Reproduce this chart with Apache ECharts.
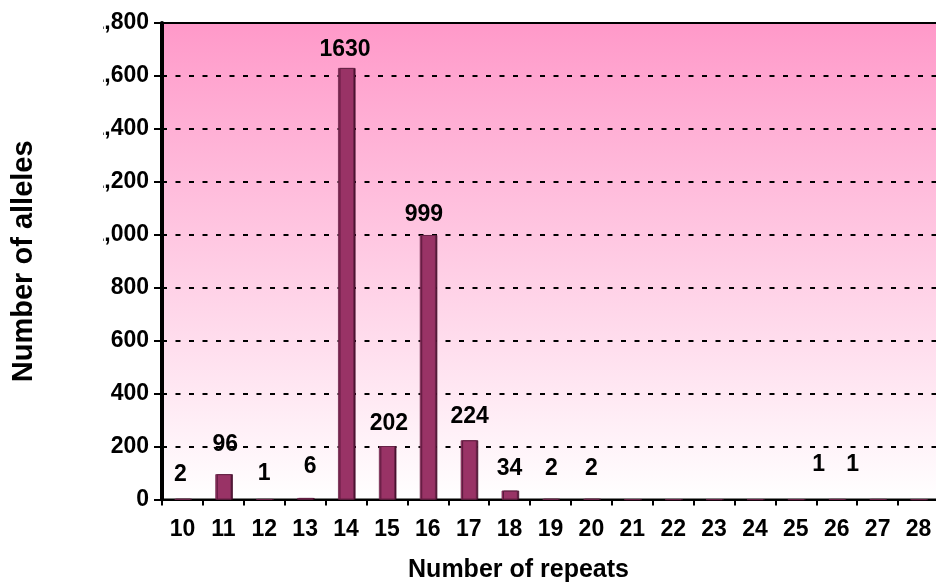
<!DOCTYPE html>
<html>
<head>
<meta charset="utf-8">
<script src="https://cdn.jsdelivr.net/npm/echarts@6/dist/echarts.min.js"></script>
<style>
  html, body { margin: 0; padding: 0; background: #ffffff; }
  #chart { width: 936px; height: 583px; }
</style>
</head>
<body>
<div id="chart"></div>
<script>
// Allele counts per number of repeats
const categories = ['10', '11', '12', '13', '14', '15', '16', '17', '18', '19',
                    '20', '21', '22', '23', '24', '25', '26', '27', '28'];
const alleleCounts = [2, 96, 1, 6, 1630, 202, 999, 224, 34, 2,
                      2, 0, 0, 0, 0, 0, 1, 1, 0];

// Value axis range
const yMin = 0;
const yMax = 1800;
const yStep = 200;

// Hand placement of the value labels: [horizontal shift, gap above the bar]
const labelPlacement = [
  [-2, 13], [2, 18], [0, 14], [5, 20], [-1, 7], [2, 11], [-4, 9], [1, 12], [0, 10], [1, 19],
  [0, 19], [0, 0], [0, 0], [0, 0], [0, 0], [0, 0], [-18, 23], [-25, 23], [0, 0]
];

const FONT = '"Liberation Sans", Arial, Helvetica, sans-serif';

const chart = echarts.init(document.getElementById('chart'), null, { renderer: 'canvas' });

const barData = alleleCounts.map((v, i) => ({
  value: v,
  label: {
    show: v > 0,
    offset: [labelPlacement[i][0], 0],
    distance: labelPlacement[i][1]
  }
}));

chart.setOption({
  animation: false,
  backgroundColor: '#ffffff',
  grid: {
    left: 162,
    right: -3,
    top: 23,
    bottom: 83.4,
    show: true,
    borderColor: '#000000',
    borderWidth: 2,
    backgroundColor: new echarts.graphic.LinearGradient(0, 0, 0, 1, [
      { offset: 0, color: '#ff99c9' },
      { offset: 1, color: '#ffffff' }
    ]),
    outerBoundsMode: 'none',
    containLabel: false
  },
  xAxis: {
    type: 'category',
    data: categories,
    boundaryGap: true,
    axisLine: { show: true, lineStyle: { color: '#000000', width: 2 } },
    axisTick: { show: true, interval: 0, length: 6, lineStyle: { color: '#000000', width: 2 } },
    axisLabel: {
      interval: 0, margin: 19, color: '#000000',
      fontFamily: FONT, fontSize: 23, fontWeight: 'bold'
    },
    splitLine: { show: false }
  },
  yAxis: {
    type: 'value',
    min: yMin,
    max: yMax,
    interval: yStep,
    name: 'Number of alleles',
    nameLocation: 'middle',
    nameRotate: 90,
    nameGap: 124,
    nameTextStyle: { color: '#000000', fontFamily: FONT, fontSize: 29, fontWeight: 'bold' },
    axisLine: { show: true, lineStyle: { color: '#000000', width: 4 } },
    axisTick: { show: true, length: 8, lineStyle: { color: '#000000', width: 2 } },
    axisLabel: {
      margin: 13, color: '#000000',
      fontFamily: FONT, fontSize: 23, fontWeight: 'bold'
    },
    splitLine: { show: true, lineStyle: { color: '#000000', width: 2, type: [5, 8.5] } }
  },
  series: [{
    type: 'bar',
    data: barData,
    barWidth: 16,
    itemStyle: {
      color: '#993366',
      borderColor: '#6b2449',
      borderWidth: 0.8,
      shadowColor: '#4a1230',
      shadowOffsetX: 1.5,
      shadowOffsetY: 0,
      shadowBlur: 0
    },
    label: {
      show: true,
      position: 'top',
      color: '#000000',
      fontFamily: FONT,
      fontSize: 23,
      fontWeight: 'bold'
    },
    z: 3
  }],
  graphic: [
    {
      // the page edge trims the leading digit of the four-digit tick labels
      type: 'rect',
      shape: { x: 80, y: 5, width: 23, height: 245 },
      style: { fill: '#ffffff' },
      z: 100
    },
    {
      type: 'text',
      x: 518.5,
      y: 570,
      style: {
        text: 'Number of repeats',
        font: 'bold 25px ' + FONT,
        fill: '#000000',
        align: 'center',
        verticalAlign: 'middle'
      },
      z: 100
    }
  ]
});
</script>
</body>
</html>
